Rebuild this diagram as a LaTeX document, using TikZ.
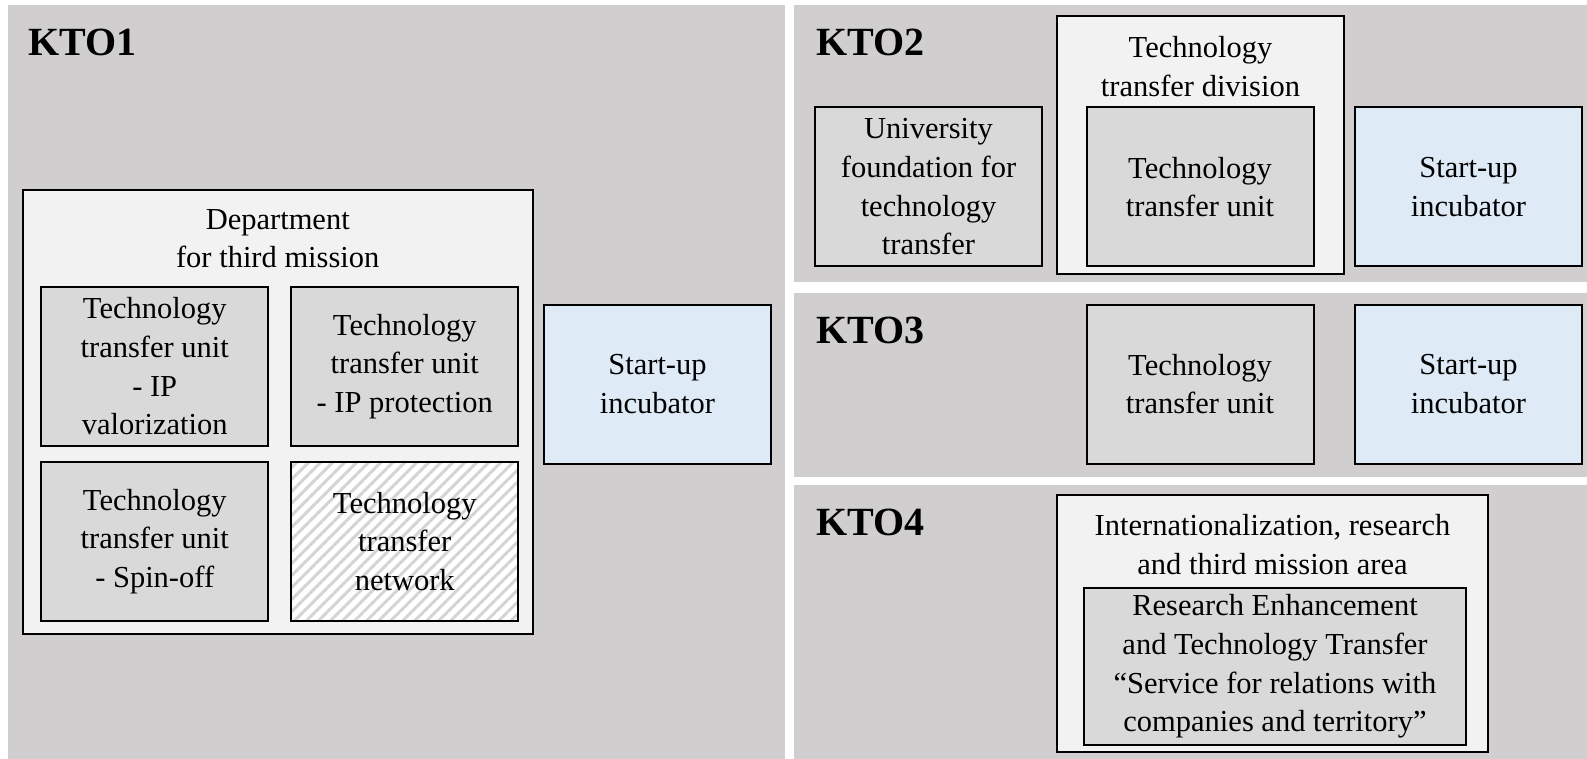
\documentclass[tikz,border=0pt]{standalone}
\usepackage{fontspec}
\setmainfont{Liberation Serif}
\usetikzlibrary{patterns.meta}
\definecolor{panelgray}{RGB}{208,206,206}
\definecolor{boxgray}{RGB}{217,217,217}
\definecolor{framegray}{RGB}{242,242,242}
\definecolor{incblue}{RGB}{222,235,247}
\definecolor{hatchgray}{RGB}{212,212,212}
\newcommand{\boxfont}{\fontsize{30.5}{38.7}\selectfont}
\tikzstyle{panel}=[fill=panelgray]
\tikzstyle{unit}=[draw, line width=2pt, fill=boxgray, minimum width=227pt, minimum height=159pt, inner sep=0pt, align=center, font=\boxfont]
\tikzstyle{inc}=[unit, fill=incblue]
\tikzstyle{net}=[draw, line width=2pt, minimum width=227pt, minimum height=159pt, inner sep=0pt, align=center, font=\boxfont, preaction={fill=white}, pattern={Lines[angle=45,distance=8.5pt,line width=3pt]}, pattern color=hatchgray]
\tikzstyle{frame}=[draw, line width=2pt, fill=framegray, inner sep=0pt]
\tikzstyle{head}=[anchor=north, inner sep=0pt, align=center, font=\boxfont]
\tikzstyle{kto}=[anchor=west, inner sep=0pt, font=\bfseries\fontsize{40}{48}\selectfont]

\begin{document}
\begin{tikzpicture}[x=1pt,y=1pt]
      \useasboundingbox (0,0) rectangle (1587,-759);
      \fill[white] (0,0) rectangle (1587,-759);

      % panels
      \fill[panel] (8,-5) rectangle (785,-759);
      \fill[panel] (794,-5) rectangle (1587,-282);
      \fill[panel] (794,-293) rectangle (1587,-477);
      \fill[panel] (794,-485) rectangle (1587,-759);

      \node [kto] (kto1) at (28,-42) {KTO1};
      \node [kto] (kto2) at (816,-42) {KTO2};
      \node [kto] (kto3) at (816,-330) {KTO3};
      \node [kto] (kto4) at (816,-522) {KTO4};

      % KTO1
      \node [frame, minimum width=510pt, minimum height=444pt] (dept) at (277.75,-412) {};
      \node [head] (deptlbl) at (277.75,-209) {Department\\for third mission};
      \node [unit] (ttuval) at (154.75,-366.5) {Technology\\transfer unit\\- IP\\valorization};
      \node [unit] (ttuprot) [right of=ttuval, node distance=250pt] {Technology\\transfer unit\\- IP protection};
      \node [unit] (ttuspin) [below of=ttuval, node distance=175pt] {Technology\\transfer unit\\- Spin-off};
      \node [net] (ttnet) [right of=ttuspin, node distance=250pt] {Technology\\transfer\\network};
      \node [inc] (inc1) at (657.5,-384) {Start-up\\incubator};

      % KTO2
      \node [unit] (found) at (928.5,-187) {University\\foundation for\\technology\\transfer};
      \node [frame, minimum width=287pt, minimum height=258pt] (ttdiv) at (1200.5,-145) {};
      \node [head] (ttdivlbl) at (1200.5,-36.5) {Technology\\transfer division};
      \node [unit] (ttu2) at (1200,-187) {Technology\\transfer unit};
      \node [inc] (inc2) [right of=ttu2, node distance=268.5pt] {Start-up\\incubator};

      % KTO3
      \node [unit] (ttu3) [below of=ttu2, node distance=197pt] {Technology\\transfer unit};
      \node [inc] (inc3) [right of=ttu3, node distance=268.5pt] {Start-up\\incubator};

      % KTO4
      \node [frame, minimum width=431pt, minimum height=257pt] (area) at (1272.5,-623.5) {};
      \node [head] (arealbl) at (1272.5,-514) {Internationalization, research\\and third mission area};
      \node [unit, minimum width=382pt, minimum height=157pt] (service) at (1275,-666.5) {Research Enhancement\\and Technology Transfer\\“Service for relations with\\companies and territory”};
  \end{tikzpicture}
\end{document}
